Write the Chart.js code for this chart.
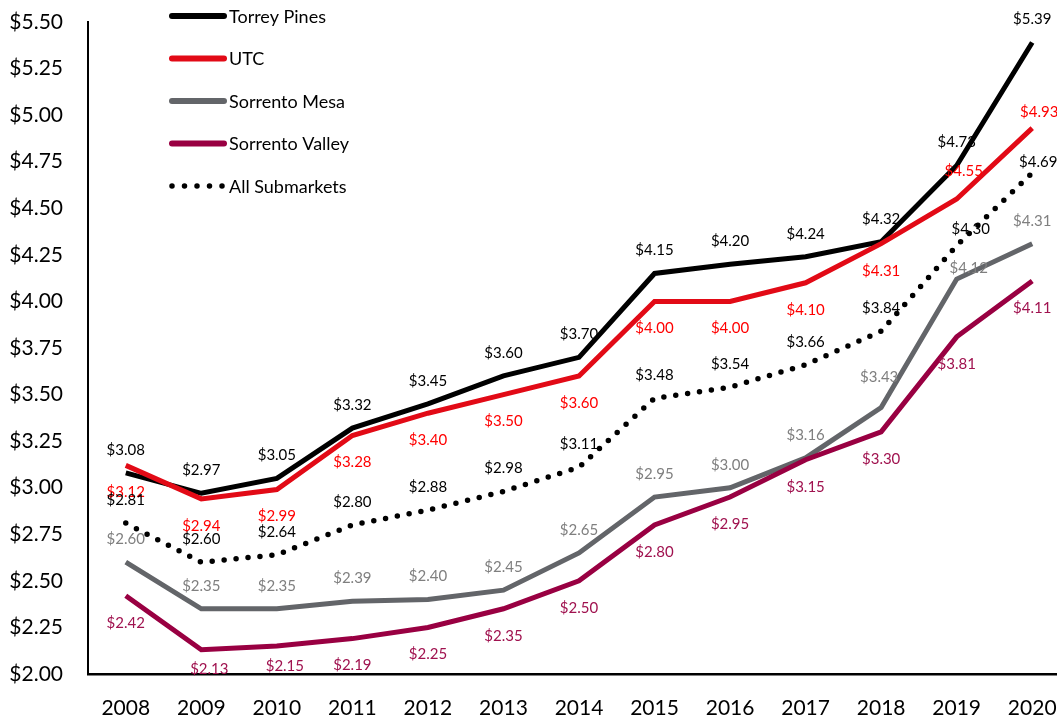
<!DOCTYPE html>
<html>
<head>
<meta charset="utf-8">
<script src="https://cdn.jsdelivr.net/npm/chart.js@4.4.1/dist/chart.umd.min.js"></script>
<style>
  html, body { margin: 0; padding: 0; background: #fff; overflow: hidden; }
  #wrap { width: 1071px; height: 719px; }
</style>
</head>
<body>
<div id="wrap"><canvas id="c" width="1071" height="719"></canvas></div>
<script>
const years = ['2008','2009','2010','2011','2012','2013','2014','2015','2016','2017','2018','2019','2020'];
const seriesNames = ['Torrey Pines', 'UTC', 'Sorrento Mesa', 'Sorrento Valley', 'All Submarkets'];
const torreyPines    = [3.08, 2.97, 3.05, 3.32, 3.45, 3.60, 3.70, 4.15, 4.20, 4.24, 4.32, 4.73, 5.39];
const utc            = [3.12, 2.94, 2.99, 3.28, 3.40, 3.50, 3.60, 4.00, 4.00, 4.10, 4.31, 4.55, 4.93];
const sorrentoMesa   = [2.60, 2.35, 2.35, 2.39, 2.40, 2.45, 2.65, 2.95, 3.00, 3.16, 3.43, 4.12, 4.31];
const sorrentoValley = [2.42, 2.13, 2.15, 2.19, 2.25, 2.35, 2.50, 2.80, 2.95, 3.15, 3.30, 3.81, 4.11];
const allSubmarkets  = [2.81, 2.60, 2.64, 2.80, 2.88, 2.98, 3.11, 3.48, 3.54, 3.66, 3.84, 4.30, 4.69];
const yTicks = [2.00, 2.25, 2.50, 2.75, 3.00, 3.25, 3.50, 3.75, 4.00, 4.25, 4.50, 4.75, 5.00, 5.25, 5.50];

const FONT = 'Lato, "Open Sans", sans-serif';

// label styling: default side per series plus a few hand-placed nudges (px)
const labelStyle = [
  { color: '#000000', side: 'above', nudge: { } },
  { color: '#ff0000', side: 'below', nudge: { 11: [7, -28], 12: [7, -16] } },
  { color: '#7f7f7f', side: 'above', nudge: { 10: [-2, -30], 11: [12, -11] } },
  { color: '#a0124f', side: 'below', nudge: { 1: [8, 19], 2: [8, 20] } },
  { color: '#000000', side: 'above', nudge: { 11: [14, -16], 12: [6, -11] } }
];

const datasets = [
  { label: seriesNames[0], data: torreyPines, borderColor: '#000000', borderWidth: 5, order: 4 },
  { label: seriesNames[1], data: utc, borderColor: '#e20a16', borderWidth: 5, order: 3 },
  { label: seriesNames[2], data: sorrentoMesa, borderColor: '#636569', borderWidth: 5, order: 2 },
  { label: seriesNames[3], data: sorrentoValley, borderColor: '#990042', borderWidth: 5, order: 1 },
  { label: seriesNames[4], data: allSubmarkets, borderColor: '#000000', borderWidth: 5.5, borderDash: [0, 12], borderCapStyle: 'round', order: 0 }
].map(d => Object.assign({ pointRadius: 0, pointHoverRadius: 0, tension: 0, fill: false, borderJoinStyle: 'miter', borderCapStyle: d.borderCapStyle || 'butt' }, d));

const labelsPlugin = {
  id: 'valueLabels',
  afterDatasetsDraw(chart) {
    const ctx = chart.ctx;
    ctx.save();
    ctx.font = '15px ' + FONT;
    ctx.textAlign = 'center';
    ctx.textBaseline = 'middle';
    chart.data.datasets.forEach((ds, i) => {
      const meta = chart.getDatasetMeta(i);
      const st = labelStyle[i];
      ctx.fillStyle = st.color;
      meta.data.forEach((pt, j) => {
        let dx = 0, dy = st.side === 'above' ? -23 : 27;
        if (st.nudge[j]) { dx = st.nudge[j][0]; dy = st.nudge[j][1]; }
        ctx.fillText('$' + ds.data[j].toFixed(2), pt.x + dx, pt.y + dy);
      });
    });
    ctx.restore();
  }
};

const legendPlugin = {
  id: 'customLegend',
  afterDraw(chart) {
    const ctx = chart.ctx;
    ctx.save();
    chart.data.datasets.forEach((ds, i) => {
      const y = 16 + i * 42.5;
      ctx.beginPath();
      ctx.strokeStyle = ds.borderColor;
      ctx.lineCap = 'round';
      if (ds.borderDash) {
        ctx.lineWidth = 5.5;
        ctx.setLineDash([0, 12.5]);
        ctx.moveTo(172, y); ctx.lineTo(223, y);
      } else {
        ctx.lineWidth = 6;
        ctx.setLineDash([]);
        ctx.moveTo(172, y); ctx.lineTo(224, y);
      }
      ctx.stroke();
      ctx.setLineDash([]);
      ctx.fillStyle = '#000';
      ctx.font = '18px ' + FONT;
      ctx.textAlign = 'left';
      ctx.textBaseline = 'middle';
      ctx.fillText(ds.label, 229, y + 1);
    });
    ctx.restore();
  }
};

new Chart(document.getElementById('c'), {
  type: 'line',
  data: { labels: years, datasets },
  plugins: [labelsPlugin, legendPlugin],
  options: {
    responsive: false,
    animation: false,
    devicePixelRatio: 1,
    layout: { padding: { top: 22, right: 1, left: 0, bottom: 0 } },
    plugins: { legend: { display: false }, tooltip: { enabled: false } },
    scales: {
      x: {
        offset: true,
        grid: { display: false, drawTicks: false },
        border: { display: true, color: '#000', width: 2.5 },
        ticks: { color: '#000', font: { family: FONT, size: 21 }, padding: 22, maxRotation: 0, autoSkip: false },
        afterFit(scale) { scale.height = 45; scale.paddingLeft = 0; scale.paddingRight = 0; }
      },
      y: {
        min: 2, max: 5.5,
        afterBuildTicks(scale) { scale.ticks = yTicks.map(v => ({ value: v })); },
        grid: { display: false, drawTicks: false },
        border: { display: true, color: '#000', width: 2 },
        ticks: { color: '#000', font: { family: FONT, size: 21 }, padding: 25, callback: v => '$' + Number(v).toFixed(2) },
        afterFit(scale) { scale.width = 88; scale.paddingTop = 0; scale.paddingBottom = 0; }
      }
    }
  }
});
</script>
</body>
</html>
